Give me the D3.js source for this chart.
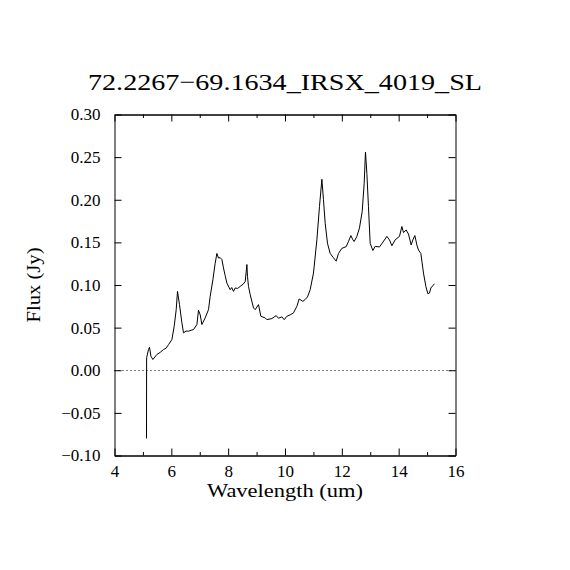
<!DOCTYPE html>
<html>
<head>
<meta charset="utf-8">
<script src="https://cdn.jsdelivr.net/npm/d3@7"></script>
<style>
  html, body { margin: 0; padding: 0; background: #fff; }
  svg { display: block; }
  text { font-family: "Liberation Serif", "DejaVu Serif", serif; fill: #000; }
</style>
</head>
<body>
<script>
// ---- data ----
const titleText = "72.2267\u221269.1634_IRSX_4019_SL";
const xLabel = "Wavelength (um)";
const yLabel = "Flux (Jy)";

const wavelength = [
  5.126, 5.130, 5.196, 5.232, 5.281, 5.351, 5.492, 5.608, 5.724, 5.819,
  5.900, 6.020, 6.101, 6.171, 6.217, 6.287, 6.372, 6.428, 6.520, 6.604,
  6.700, 6.780, 6.899, 6.956, 7.016, 7.075, 7.191, 7.308, 7.367, 7.462,
  7.540, 7.603, 7.659, 7.720, 7.779, 7.835, 7.895, 7.955, 8.071, 8.124,
  8.187, 8.247, 8.335, 8.423, 8.529, 8.599, 8.659, 8.680, 8.715, 8.775,
  8.891, 8.951, 9.067, 9.151, 9.303, 9.362, 9.538, 9.690, 9.770, 9.890,
  9.971, 10.066, 10.182, 10.298, 10.418, 10.499, 10.629, 10.710, 10.791, 10.886,
  11.002, 11.122, 11.213, 11.298, 11.354, 11.414, 11.495, 11.590, 11.706, 11.801,
  11.882, 12.001, 12.153, 12.234, 12.318, 12.389, 12.434, 12.529, 12.621, 12.716,
  12.786, 12.832, 12.881, 12.937, 12.997, 13.092, 13.173, 13.324, 13.420, 13.585,
  13.676, 13.761, 13.877, 14.028, 14.113, 14.169, 14.264, 14.345, 14.440, 14.500,
  14.570, 14.640, 14.697, 14.781, 14.873, 14.957, 15.027, 15.084, 15.133, 15.203,
  15.260
];
const flux = [
  -0.080, 0.0146, 0.0243, 0.0270, 0.0165, 0.0126, 0.0185, 0.0210, 0.0243, 0.0260,
  0.0300, 0.0360, 0.0516, 0.0710, 0.0925, 0.0770, 0.0556, 0.0439, 0.0460, 0.0458,
  0.0470, 0.0477, 0.0536, 0.0703, 0.0650, 0.0536, 0.0614, 0.0711, 0.0867, 0.1060,
  0.1250, 0.1370, 0.1316, 0.1320, 0.1300, 0.1200, 0.1110, 0.1023, 0.0945, 0.0970,
  0.0925, 0.0965, 0.0960, 0.0984, 0.1010, 0.1040, 0.1240, 0.1100, 0.0984, 0.0887,
  0.0731, 0.0711, 0.0770, 0.0633, 0.0614, 0.0594, 0.0606, 0.0641, 0.0610, 0.0626,
  0.0594, 0.0633, 0.0650, 0.0672, 0.0750, 0.0836, 0.0808, 0.0830, 0.0860, 0.0945,
  0.1140, 0.1530, 0.1920, 0.2240, 0.2000, 0.1725, 0.1490, 0.1370, 0.1320, 0.1280,
  0.1370, 0.1430, 0.1450, 0.1510, 0.1580, 0.1530, 0.1510, 0.1570, 0.1670, 0.1860,
  0.2190, 0.2560, 0.2310, 0.1920, 0.1490, 0.1405, 0.1453, 0.1446, 0.1490, 0.1570,
  0.1530, 0.1460, 0.1530, 0.1570, 0.1686, 0.1615, 0.1645, 0.1598, 0.1470, 0.1530,
  0.1580, 0.1470, 0.1410, 0.1370, 0.1140, 0.0984, 0.0898, 0.0906, 0.0965, 0.0992,
  0.1015
];
const xTicks = [4, 6, 8, 10, 12, 14, 16];
const xMinorTicks = [5, 7, 9, 11, 13, 15];
const yTicks = [-0.10, -0.05, 0.00, 0.05, 0.10, 0.15, 0.20, 0.25, 0.30];
const xDomain = [4, 16];
const yDomain = [-0.10, 0.30];

// ---- drawing ----
const W = 570, H = 570;
const mL = 114.5, mR = 455.5, mT = 114.5, mB = 455.5;

const svg = d3.select("body").append("svg").attr("width", W).attr("height", H);

const x = d3.scaleLinear().domain(xDomain).range([mL, mR]);
const y = d3.scaleLinear().domain(yDomain).range([mB, mT]);

const majorLen = 7, minorLen = 3.5;

// bottom axis with labels
svg.append("g").attr("transform", `translate(0,${mB})`)
  .call(d3.axisBottom(x).tickValues(xTicks).tickSize(-majorLen).tickSizeOuter(0)
    .tickPadding(9).tickFormat(d3.format("d")));
svg.append("g").attr("transform", `translate(0,${mB})`)
  .call(d3.axisBottom(x).tickValues(xMinorTicks).tickSize(-minorLen).tickSizeOuter(0).tickFormat(""));
// top axis
svg.append("g").attr("transform", `translate(0,${mT})`)
  .call(d3.axisTop(x).tickValues(xTicks).tickSize(-majorLen).tickSizeOuter(0).tickFormat(""));
svg.append("g").attr("transform", `translate(0,${mT})`)
  .call(d3.axisTop(x).tickValues(xMinorTicks).tickSize(-minorLen).tickSizeOuter(0).tickFormat(""));
// left axis with labels
svg.append("g").attr("transform", `translate(${mL},0)`)
  .call(d3.axisLeft(y).tickValues(yTicks).tickSize(-majorLen).tickSizeOuter(0)
    .tickPadding(14).tickFormat(d3.format(".2f")));
// right axis
svg.append("g").attr("transform", `translate(${mR},0)`)
  .call(d3.axisRight(y).tickValues(yTicks).tickSize(-majorLen).tickSizeOuter(0).tickFormat(""));

svg.selectAll(".domain").attr("stroke", "#000").attr("stroke-width", 1);
svg.selectAll(".tick line").attr("stroke", "#000").attr("stroke-width", 1);
svg.selectAll(".tick text").attr("font-family", "Liberation Serif, DejaVu Serif, serif")
  .attr("font-size", 17).attr("fill", "#000");

// zero dotted line
svg.append("line")
  .attr("x1", x(xDomain[0])).attr("x2", x(xDomain[1]))
  .attr("y1", Math.round(y(0)) + 0.5).attr("y2", Math.round(y(0)) + 0.5)
  .attr("stroke", "#000").attr("stroke-width", 1)
  .attr("stroke-dasharray", "1,3");

// spectrum
const pts = wavelength.map((w, i) => [w, flux[i]]);
svg.append("path")
  .datum(pts)
  .attr("fill", "none")
  .attr("stroke", "#000")
  .attr("stroke-width", 1)
  .attr("d", d3.line().x(d => x(d[0])).y(d => y(d[1])));

// title
svg.append("text")
  .attr("x", (mL + mR) / 2).attr("y", 90)
  .attr("text-anchor", "middle")
  .attr("font-size", 24)
  .attr("textLength", 394).attr("lengthAdjust", "spacingAndGlyphs")
  .text(titleText);

// x label
svg.append("text")
  .attr("x", (mL + mR) / 2).attr("y", 497)
  .attr("text-anchor", "middle")
  .attr("font-size", 18)
  .attr("textLength", 156).attr("lengthAdjust", "spacingAndGlyphs")
  .text(xLabel);

// y label
svg.append("text")
  .attr("transform", `translate(40,${(mT + mB) / 2}) rotate(-90)`)
  .attr("text-anchor", "middle")
  .attr("font-size", 18)
  .attr("textLength", 75).attr("lengthAdjust", "spacingAndGlyphs")
  .text(yLabel);
</script>
</body>
</html>
